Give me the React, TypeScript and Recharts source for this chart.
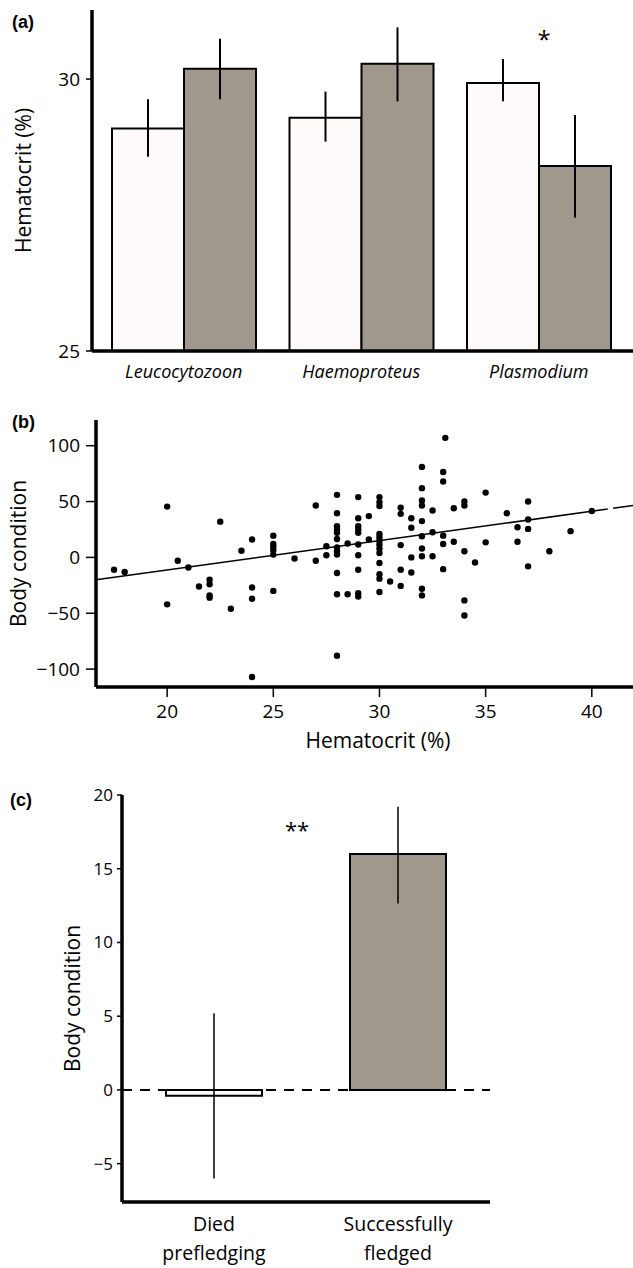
import React from 'react';
import {
  BarChart,
  Bar,
  XAxis,
  YAxis,
  ErrorBar,
  ScatterChart,
  Scatter,
  ReferenceLine,
  Cell,
  Label,
} from 'recharts';

const FONT = '"Open Sans", "Noto Sans", sans-serif';
const BOLD_FONT = '"Liberation Sans", Arial, sans-serif';
const LIGHT = '#fffafa';
const GREY = '#a0978d';

// ---------- Panel (a): hematocrit by parasite genus ----------
const parasiteGenera = ['Leucocytozoon', 'Haemoproteus', 'Plasmodium'];
const uninfectedHct = [29.09, 29.29, 29.93];
const uninfectedErrLow = [0.52, 0.44, 0.34];
const uninfectedErrHigh = [0.54, 0.48, 0.44];
const infectedHct = [30.19, 30.28, 28.4];
const infectedErrLow = [0.56, 0.69, 0.95];
const infectedErrHigh = [0.55, 0.67, 0.94];
const hctTicksA = [25, 30];
const hctDomainA = [25, 31.27];

const dataA = parasiteGenera.map((g, i) => ({
  genus: g,
  uninfected: uninfectedHct[i],
  uninfectedErr: [uninfectedErrLow[i], uninfectedErrHigh[i]],
  infected: infectedHct[i],
  infectedErr: [infectedErrLow[i], infectedErrHigh[i]],
}));

// ---------- Panel (b): body condition vs hematocrit ----------
const hematocrit = [
  17.5, 18.0, 20.0, 20.5, 21.0, 22.5, 23.5, 20.0, 21.5, 22.0, 22.0, 22.0, 22.0, 23.0,
  24.0, 24.0, 24.0, 24.0, 25, 25, 25, 25, 25, 25, 26, 27, 27, 27.5, 27.5,
  28, 28, 28, 28, 28, 28, 28, 28, 28, 28, 28, 28.5, 28.5, 28,
  29, 29, 29, 29, 29, 29, 29, 29, 29, 29, 29.5, 29.5,
  30, 30, 30, 30, 30, 30, 30, 30, 30, 30, 30, 30, 30, 30.5,
  31, 31, 31, 31, 31, 31.5, 31.5, 31.5, 31.5,
  32, 32, 32, 32, 32, 32, 32, 32, 32, 32, 32.5, 32.5, 32.5,
  33, 33, 33, 33, 33, 33.1, 33.5, 33.5, 34, 34, 34, 34, 34, 34.5,
  35, 35, 36, 36.5, 36.5, 37, 37, 37, 37, 38, 39, 40,
];
const bodyCondition = [
  -11, -13, 45.5, -3, -9, 32, 6, -42, -26, -20, -24, -34, -36, -46,
  16, -27, -37, -107, 19.5, 12, 9.5, 6.5, 2.5, -30, -1, 46.5, -3, 10, 2,
  56, 39.5, 28, 25, 22, 16.5, 9, 5.5, 2.5, -14, -33, -33, 12.5, -88,
  54, 35, 28, 25, 22, 11.5, 2, -11, -32, -35, 37, 16,
  54, 49.5, 46, 21, 18, 15, 11.5, 8, 4, -5, -15, -19, -31, -21.5,
  44.5, 39, 11, -11, -25.5, 35, 26.5, 0, -13.5,
  81, 62, 51, 46.5, 32.5, 19, 8, 1, -28, -34, 42, 22.5, 1,
  76.5, 68, 19.5, 12, -10.5, 107, 44, 14, 50, 46.5, 5.5, -38.5, -52, -4.5,
  58, 13.5, 39.5, 27, 14, 50, 34, 25.5, -8, 5.5, 23.5, 41.5,
];
const dataB = hematocrit.map((h, i) => ({ hct: h, bc: bodyCondition[i] }));
const hctTicksB = [20, 25, 30, 35, 40];
const bcTicksB = [-100, -50, 0, 50, 100];
const hctDomainB = [16.65, 41.94];
const bcDomainB = [-116, 123];
const fitIntercept = -63.8;
const fitSlope = 2.627;
const fitSolidEnd = 40.75;
const fitDashStart = 41.0;
const fitY = (x: number) => fitIntercept + fitSlope * x;

// ---------- Panel (c): body condition by fledging outcome ----------
const fledgeOutcome = ['Died\nprefledging', 'Successfully\nfledged'];
const bcMeanC = [-0.4, 16.0];
const bcErrLowC = [5.6, 3.35];
const bcErrHighC = [5.6, 3.2];
const bcTicksC = [-5, 0, 5, 10, 15, 20];
const bcDomainC = [-7.6, 20];
const fillsC = [LIGHT, GREY];

const dataC = fledgeOutcome.map((o, i) => ({
  outcome: o,
  bc: bcMeanC[i],
  bcErr: [bcErrLowC[i], bcErrHighC[i]],
}));

const axisLineStyle = { stroke: '#000', strokeWidth: 3.5 };
const tickLineStyle = { stroke: '#000', strokeWidth: 1.5 };
const minusFmt = (v: number) => String(v).replace('-', '\u2212');

const RotatedLabel = (props: any) => {
  const { viewBox, text, cx, fontSize } = props;
  const cy = viewBox.y + viewBox.height / 2;
  return (
    <text
      x={cx}
      y={cy}
      transform={`rotate(-90, ${cx}, ${cy})`}
      textAnchor="middle"
      dominantBaseline="central"
      fontSize={fontSize}
      fill="#000"
      fontFamily={FONT}
    >
      {text}
    </text>
  );
};

const BottomLabel = (props: any) => {
  const { viewBox, text, cx, dy, fontSize } = props;
  return (
    <text
      x={cx}
      y={viewBox.y + dy}
      textAnchor="middle"
      dominantBaseline="central"
      fontSize={fontSize}
      fill="#000"
      fontFamily={FONT}
    >
      {text}
    </text>
  );
};

const TwoLineTick = (props: any) => {
  const { x, y, payload } = props;
  const lines = String(payload.value).split('\n');
  return (
    <text x={x} y={y} textAnchor="middle" fontSize={19.5} fill="#000" fontFamily={FONT}>
      {lines.map((l, i) => (
        <tspan key={i} x={x} dy={i === 0 ? 23 : 29}>
          {l}
        </tspan>
      ))}
    </text>
  );
};

const Dot = (props: any) => <circle cx={props.cx} cy={props.cy} r={3.2} fill="#000" />;

export default function App() {
  return (
    <div
      style={{
        position: 'absolute',
        left: 0,
        top: 0,
        width: 633,
        height: 1268,
        background: '#fff',
        fontFamily: FONT,
        overflow: 'hidden',
      }}
    >
      {/* Panel (a) */}
      <div style={{ position: 'absolute', left: 0, top: 0 }}>
        <BarChart
          width={633}
          height={395}
          data={dataA}
          margin={{ top: 10, right: 0, left: 0, bottom: 14 }}
          barGap={0}
          barSize={72}
          style={{ fontFamily: FONT }}
        >
          <XAxis
            dataKey="genus"
            height={30}
            padding={{ left: 3, right: 5.5 }}
            axisLine={axisLineStyle}
            tickLine={false}
            tickMargin={8}
            tick={{ fill: '#000', fontSize: 18, fontStyle: 'italic', fontFamily: FONT }}
            interval={0}
          />
          <YAxis
            width={92}
            type="number"
            domain={hctDomainA}
            ticks={hctTicksA}
            allowDataOverflow
            axisLine={axisLineStyle}
            tickLine={tickLineStyle}
            tickSize={6}
            tickMargin={6}
            tick={{ fill: '#000', fontSize: 19, fontFamily: FONT }}
          >
            <Label content={(p: any) => <RotatedLabel {...p} text="Hematocrit (%)" cx={23} fontSize={21} />} />
          </YAxis>
          <Bar dataKey="uninfected" fill={LIGHT} stroke="#000" strokeWidth={2} isAnimationActive={false}>
            <ErrorBar dataKey="uninfectedErr" width={0} stroke="#000" strokeWidth={2} isAnimationActive={false} />
          </Bar>
          <Bar dataKey="infected" fill={GREY} stroke="#000" strokeWidth={2} isAnimationActive={false}>
            <ErrorBar dataKey="infectedErr" width={0} stroke="#000" strokeWidth={2} isAnimationActive={false} />
          </Bar>
        </BarChart>
      </div>

      {/* Panel (b) */}
      <div style={{ position: 'absolute', left: 0, top: 390 }}>
        <ScatterChart
          width={633}
          height={370}
          margin={{ top: 30, right: 0, left: 0, bottom: 43 }}
          style={{ fontFamily: FONT }}
        >
          <XAxis
            type="number"
            dataKey="hct"
            domain={hctDomainB}
            ticks={hctTicksB}
            allowDataOverflow
            height={30}
            axisLine={axisLineStyle}
            tickLine={tickLineStyle}
            tickSize={10}
            tickMargin={8}
            tick={{ fill: '#000', fontSize: 19, fontFamily: FONT }}
          >
            <Label content={(p: any) => <BottomLabel {...p} text="Hematocrit (%)" cx={378} dy={53} fontSize={21} />} />
          </XAxis>
          <YAxis
            type="number"
            dataKey="bc"
            width={96}
            domain={bcDomainB}
            ticks={bcTicksB}
            allowDataOverflow
            axisLine={axisLineStyle}
            tickLine={tickLineStyle}
            tickSize={10}
            tickMargin={6}
            tickFormatter={minusFmt}
            tick={{ fill: '#000', fontSize: 19, fontFamily: FONT }}
          >
            <Label content={(p: any) => <RotatedLabel {...p} text="Body condition" cx={18} fontSize={21} />} />
          </YAxis>
          <ReferenceLine
            segment={[
              { x: hctDomainB[0], y: fitY(hctDomainB[0]) },
              { x: fitSolidEnd, y: fitY(fitSolidEnd) },
            ]}
            stroke="#000"
            strokeWidth={1.5}
          />
          <ReferenceLine
            segment={[
              { x: fitDashStart, y: fitY(fitDashStart) },
              { x: hctDomainB[1], y: fitY(hctDomainB[1]) },
            ]}
            stroke="#000"
            strokeWidth={1.5}
          />
          <Scatter data={dataB} shape={Dot} isAnimationActive={false} />
        </ScatterChart>
      </div>

      {/* Panel (c) */}
      <div style={{ position: 'absolute', left: 0, top: 760 }}>
        <BarChart
          width={633}
          height={508}
          data={dataC}
          margin={{ top: 35, right: 143, left: 0, bottom: 6 }}
          barSize={96}
          style={{ fontFamily: FONT }}
        >
          <XAxis
            dataKey="outcome"
            height={60}
            axisLine={axisLineStyle}
            tickLine={false}
            tickMargin={0}
            tick={<TwoLineTick />}
            interval={0}
          />
          <YAxis
            width={122}
            type="number"
            domain={bcDomainC}
            ticks={bcTicksC}
            allowDataOverflow
            axisLine={axisLineStyle}
            tickLine={tickLineStyle}
            tickSize={5}
            tickMargin={4}
            tickFormatter={minusFmt}
            tick={{ fill: '#000', fontSize: 17, fontFamily: FONT }}
          >
            <Label content={(p: any) => <RotatedLabel {...p} text="Body condition" cx={72} fontSize={21} />} />
          </YAxis>
          <Bar dataKey="bc" stroke="#000" strokeWidth={2} isAnimationActive={false}>
            {dataC.map((d, i) => (
              <Cell key={d.outcome} fill={fillsC[i]} />
            ))}
            <ErrorBar dataKey="bcErr" width={0} stroke="#000" strokeWidth={1.5} isAnimationActive={false} />
          </Bar>
          <ReferenceLine y={0} stroke="#000" strokeWidth={2} strokeDasharray="10 8" />
        </BarChart>
      </div>

      {/* Panel letters and significance marks */}
      <svg
        width={633}
        height={1268}
        style={{ position: 'absolute', left: 0, top: 0, pointerEvents: 'none' }}
      >
        <text x={12} y={28} fontSize={18} fontWeight="bold" fontFamily={BOLD_FONT} fill="#000">(a)</text>
        <text x={12} y={428} fontSize={18} fontWeight="bold" fontFamily={BOLD_FONT} fill="#000">(b)</text>
        <text x={10} y={806} fontSize={18} fontWeight="bold" fontFamily={BOLD_FONT} fill="#000">(c)</text>
        <text x={544} y={48} fontSize={24} textAnchor="middle" fontFamily={FONT} fill="#000">*</text>
        <text x={297} y={838} fontSize={22} textAnchor="middle" fontFamily={FONT} fill="#000">**</text>
      </svg>
    </div>
  );
}
